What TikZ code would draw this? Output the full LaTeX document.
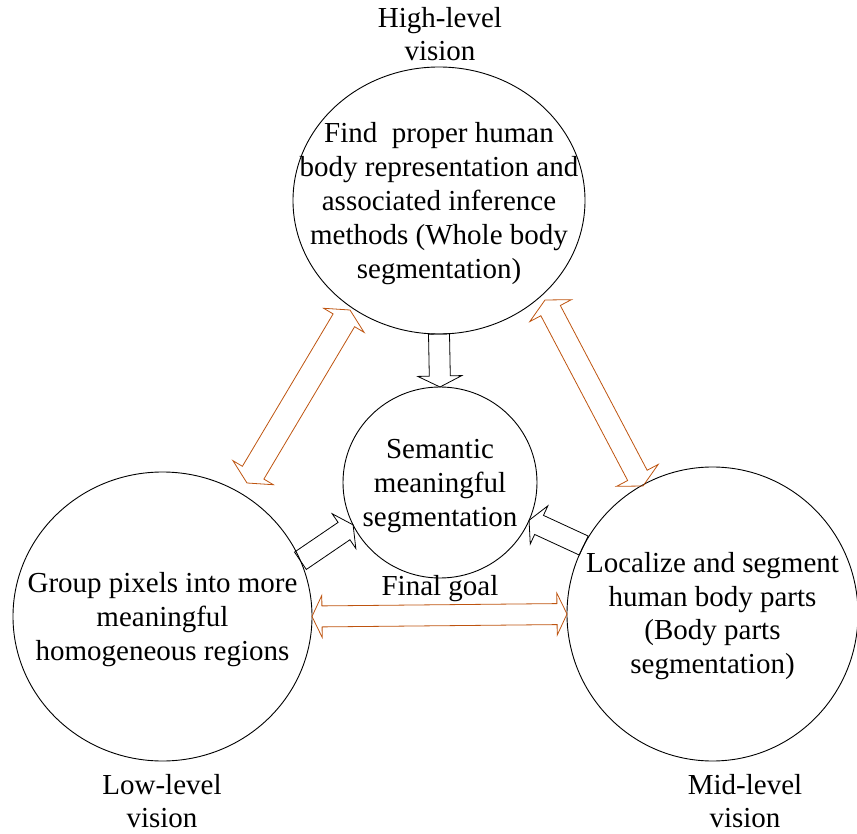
\documentclass[tikz,border=0pt]{standalone}
\usepackage{fontspec}
\setmainfont{Liberation Serif}
\usetikzlibrary{shapes.geometric,calc}

\definecolor{rustline}{RGB}{190,84,16}

% Outlined two-headed block arrow between two tips.
% #1 style, #2 tip A, #3 tip B, #4 half shaft width, #5 half head width, #6 head length
\newcommand\twowayarrow[6]{%
  \path ($(#2)!#6!(#3)$) coordinate (twA) ($(#3)!#6!(#2)$) coordinate (twB);
  \draw[#1] (#2) -- ($(twA)!#5!90:(#3)$) -- ($(twA)!#4!90:(#3)$)
    -- ($(twB)!#4!-90:(#2)$) -- ($(twB)!#5!-90:(#2)$) -- (#3)
    -- ($(twB)!#5!90:(#2)$) -- ($(twB)!#4!90:(#2)$)
    -- ($(twA)!#4!-90:(#3)$) -- ($(twA)!#5!-90:(#3)$) -- cycle;
}

% Outlined one-headed block arrow from a tail point to a tip.
% #1 style, #2 tail, #3 tip, #4 half shaft width, #5 half head width, #6 head length
\newcommand\onewayarrow[6]{%
  \path ($(#3)!#6!(#2)$) coordinate (owH);
  \draw[#1] ($(#2)!#4!90:(#3)$) -- ($(owH)!#4!90:(#3)$) -- ($(owH)!#5!90:(#3)$)
    -- (#3) -- ($(owH)!#5!-90:(#3)$) -- ($(owH)!#4!-90:(#3)$)
    -- ($(#2)!#4!-90:(#3)$) -- cycle;
}

\begin{document}
\begin{tikzpicture}[x=1pt,y=-1pt,
  every node/.style={font=\fontsize{29}{33.8}\selectfont, align=center, inner sep=0pt},
  stage/.style={ellipse, draw=black, line width=0.9pt, outer sep=0pt},
  blockline/.style={draw=black, line width=0.8pt, line join=miter},
  linkline/.style={draw=rustline, line width=0.8pt, line join=miter}]

\useasboundingbox (0,0) rectangle (857,834);

% the four stages
\node[stage, minimum width=292pt, minimum height=267pt] (high) at (439,200.5) {};
\node[stage, minimum width=194pt, minimum height=191pt] (goal) at (440,482.5) {};
\node[stage, minimum width=299pt, minimum height=289pt] (low)  at (162.5,616.5) {};
\node[stage, minimum width=291pt, minimum height=294pt] (mid)  at (712.5,614) {};

% texts inside the stages
\node[yshift=-3pt] (hightext) at (high) {Find~ proper human\\body representation and\\associated inference\\methods (Whole body\\segmentation)};
\node[yshift=-3.5pt] (goaltext) at (goal) {Semantic\\meaningful\\segmentation};
\node[yshift=-3pt] (lowtext)  at (low)  {Group pixels into more\\meaningful\\homogeneous regions};
\node[yshift=-2pt] (midtext)  at (mid)  {Localize and segment\\human body parts\\(Body parts\\segmentation)};

% level captions
\node (highcap) at (440,34)  {High-level\\vision};
\node (lowcap)  at (162,801) {Low-level\\vision};
\node (midcap)  at (745,801) {Mid-level\\vision};
\node[anchor=base] (goalcap) at (440,595) {Final goal};

% block arrows into the final goal
\onewayarrow{blockline}{high.south}{goal.north}{10.5pt}{22pt}{11pt}
\onewayarrow{blockline}{low.22.6}{goal.206.6}{10.5pt}{21pt}{11pt}
\onewayarrow{blockline}{mid.152.9}{goal.-23.9}{10.5pt}{21pt}{11pt}

% two-way links between the levels
\coordinate (hlA) at (350,310);
\coordinate (hlB) at (247,483);
\coordinate (hmA) at (545,300);
\coordinate (hmB) at (643,486);
\twowayarrow{linkline}{hlA}{hlB}{12.5pt}{23.5pt}{12pt}
\twowayarrow{linkline}{hmA}{hmB}{11pt}{23.5pt}{12pt}
\twowayarrow{linkline}{low.east}{mid.west}{10.5pt}{21pt}{10pt}

\end{tikzpicture}
\end{document}
